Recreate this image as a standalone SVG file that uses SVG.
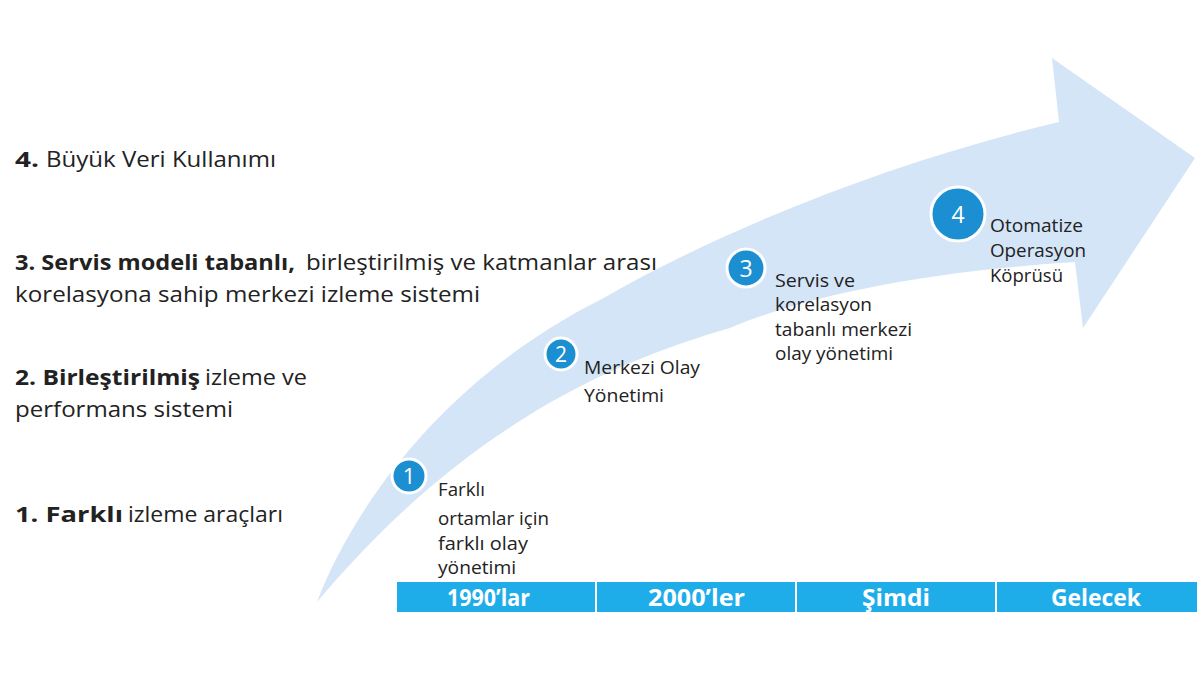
<svg xmlns="http://www.w3.org/2000/svg" width="1200" height="676" viewBox="0 0 1200 676">
<style>
.lbl{font-family:"Open Sans","Noto Sans","Liberation Sans",sans-serif;font-size:22px;fill:#222}
.b{font-weight:bold}
.nt{font-family:"Open Sans","Noto Sans","Liberation Sans",sans-serif;font-size:18px;fill:#222}
.num{font-family:"Open Sans","Noto Sans","Liberation Sans",sans-serif;fill:#fff;text-anchor:middle}
.circ{fill:#1b8fd2;stroke:#fff;stroke-width:3}
.bar{fill:#1fadea}
.bt{font-family:"Open Sans","Noto Sans","Liberation Sans",sans-serif;font-weight:bold;font-size:24px;fill:#fff}
</style>
<rect width="1200" height="676" fill="#fff"/>
<g id="arrow">
<path d="M317,602 C360,490 460,370 600,300 C730,225 900,160 1059,122 L1052,58 L1195,158 L1083,328 L1075,262 C950,270 820,290 730,328 C620,360 470,420 317,602 Z" fill="#d4e5f7"/>
</g>
<g id="labels">
<text class="lbl b" x="15" y="167" textLength="24" lengthAdjust="spacingAndGlyphs">4.</text>
<text class="lbl" x="46" y="167" textLength="230" lengthAdjust="spacingAndGlyphs">Büyük Veri Kullanımı</text>
<text class="lbl b" x="15" y="270" textLength="280" lengthAdjust="spacingAndGlyphs">3. Servis modeli tabanlı,</text>
<text class="lbl" x="306" y="270" textLength="351" lengthAdjust="spacingAndGlyphs">birleştirilmiş ve katmanlar arası</text>
<text class="lbl" x="15" y="302" textLength="465" lengthAdjust="spacingAndGlyphs">korelasyona sahip merkezi izleme sistemi</text>
<text class="lbl b" x="15" y="385" textLength="185" lengthAdjust="spacingAndGlyphs">2. Birleştirilmiş</text>
<text class="lbl" x="205" y="385" textLength="102" lengthAdjust="spacingAndGlyphs">izleme ve</text>
<text class="lbl" x="15" y="417" textLength="218" lengthAdjust="spacingAndGlyphs">performans sistemi</text>
<text class="lbl b" x="15" y="522" textLength="108" lengthAdjust="spacingAndGlyphs">1.  Farklı</text>
<text class="lbl" x="128" y="522" textLength="155" lengthAdjust="spacingAndGlyphs">izleme araçları</text>
</g>
<g id="node1">
<circle class="circ" cx="409" cy="476" r="17"/>
<text class="num" x="409" y="484" font-size="22">1</text>
<text class="nt" x="438" y="496" textLength="47" lengthAdjust="spacingAndGlyphs">Farklı</text>
<text class="nt" x="438" y="525" textLength="111" lengthAdjust="spacingAndGlyphs">ortamlar için</text>
<text class="nt" x="438" y="550" textLength="90" lengthAdjust="spacingAndGlyphs">farklı olay</text>
<text class="nt" x="438" y="574" textLength="78" lengthAdjust="spacingAndGlyphs">yönetimi</text>
</g>
<g id="node2">
<circle class="circ" cx="561" cy="354" r="16"/>
<text class="num" x="561" y="362" font-size="21">2</text>
<text class="nt" x="584" y="374" textLength="116" lengthAdjust="spacingAndGlyphs">Merkezi Olay</text>
<text class="nt" x="584" y="402" textLength="80" lengthAdjust="spacingAndGlyphs">Yönetimi</text>
</g>
<g id="node3">
<circle class="circ" cx="746" cy="268" r="19"/>
<text class="num" x="746" y="277" font-size="23">3</text>
<text class="nt" x="775" y="287" textLength="80" lengthAdjust="spacingAndGlyphs">Servis ve</text>
<text class="nt" x="775" y="311" textLength="97" lengthAdjust="spacingAndGlyphs">korelasyon</text>
<text class="nt" x="775" y="336" textLength="137" lengthAdjust="spacingAndGlyphs">tabanlı merkezi</text>
<text class="nt" x="775" y="360" textLength="118" lengthAdjust="spacingAndGlyphs">olay yönetimi</text>
</g>
<g id="node4">
<circle class="circ" cx="958" cy="214" r="27"/>
<text class="num" x="958" y="223" font-size="23">4</text>
<text class="nt" x="990" y="232" textLength="93" lengthAdjust="spacingAndGlyphs">Otomatize</text>
<text class="nt" x="990" y="257" textLength="96" lengthAdjust="spacingAndGlyphs">Operasyon</text>
<text class="nt" x="990" y="282" textLength="73" lengthAdjust="spacingAndGlyphs">Köprüsü</text>
</g>
<g id="timeline">
<rect class="bar" x="397" y="582" width="800" height="30"/>
<g stroke="#fff" stroke-width="2">
<line x1="596" y1="582" x2="596" y2="612"/>
<line x1="796" y1="582" x2="796" y2="612"/>
<line x1="996" y1="582" x2="996" y2="612"/>
</g>
<text class="bt" x="447" y="606" textLength="83" lengthAdjust="spacingAndGlyphs">1990’lar</text>
<text class="bt" x="648" y="606" textLength="97" lengthAdjust="spacingAndGlyphs">2000’ler</text>
<text class="bt" x="862" y="606" textLength="68" lengthAdjust="spacingAndGlyphs">Şimdi</text>
<text class="bt" x="1051" y="606" textLength="90" lengthAdjust="spacingAndGlyphs">Gelecek</text>
</g>
</svg>
